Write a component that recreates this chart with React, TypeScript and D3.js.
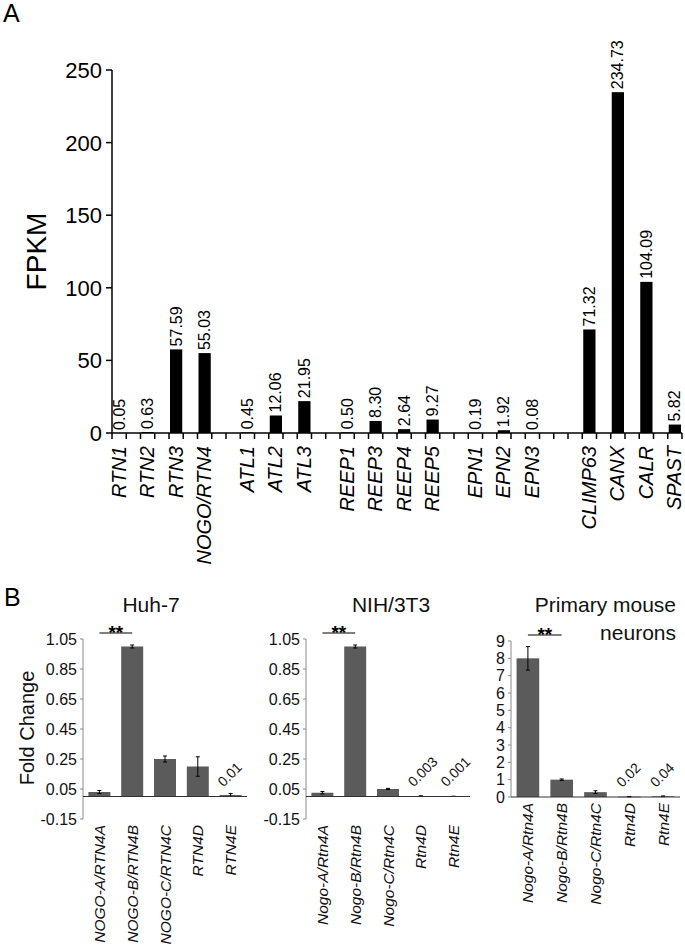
import React from "react";
import * as d3 from "d3";

// ---------- Panel A data ----------
const geneCategories = [
  "RTN1", "", "RTN2", "", "RTN3", "", "NOGO/RTN4", "", "",
  "ATL1", "", "ATL2", "", "ATL3", "", "",
  "REEP1", "", "REEP3", "", "REEP4", "", "REEP5", "", "",
  "EPN1", "", "EPN2", "", "EPN3", "", "", "",
  "CLIMP63", "", "CANX", "", "CALR", "", "SPAST",
];
const geneValues: (number | null)[] = [
  0.05, null, 0.63, null, 57.59, null, 55.03, null, null,
  0.45, null, 12.06, null, 21.95, null, null,
  0.5, null, 8.3, null, 2.64, null, 9.27, null, null,
  0.19, null, 1.92, null, 0.08, null, null, null,
  71.32, null, 234.73, null, 104.09, null, 5.82,
];
const fpkmTicks = [0, 50, 100, 150, 200, 250];

// ---------- Panel B data ----------
const huhCategories = ["NOGO-A/RTN4A", "NOGO-B/RTN4B", "NOGO-C/RTN4C", "RTN4D", "RTN4E"];
const huhValues = [0.03, 1.0, 0.25, 0.2, 0.01];
const huhErrors = [0.01, 0.01, 0.02, 0.065, 0.01];
const huhNotes = [null, null, null, null, "0.01"];

const nihCategories = ["Nogo-A/Rtn4A", "Nogo-B/Rtn4B", "Nogo-C/Rtn4C", "Rtn4D", "Rtn4E"];
const nihValues = [0.025, 1.0, 0.05, 0.003, 0.001];
const nihErrors = [0.008, 0.01, 0.004, 0.002, 0.001];
const nihNotes = [null, null, null, "0.003", "0.001"];

const neuronCategories = ["Nogo-A/Rtn4A", "Nogo-B/Rtn4B", "Nogo-C/Rtn4C", "Rtn4D", "Rtn4E"];
const neuronValues = [8.0, 1.0, 0.28, 0.02, 0.04];
const neuronErrors = [0.68, 0.04, 0.08, 0.01, 0.02];
const neuronNotes = [null, null, null, "0.02", "0.04"];

const foldTicks = [-0.15, 0.05, 0.25, 0.45, 0.65, 0.85, 1.05];
const neuronTicks = [0, 1, 2, 3, 4, 5, 6, 7, 8, 9];

const FONT = "'Liberation Sans', Arial, Helvetica, sans-serif";

type TitleLine = { text: string; x: number; y: number; anchor: "start" | "middle" | "end" };

type SmallProps = {
  categories: string[];
  values: number[];
  errors: number[];
  notes: (string | null)[];
  ticks: number[];
  decimals: number;
  x0: number;
  x1: number;
  yTop: number;
  yBottom: number;
  titleLines: TitleLine[];
};

function SmallChart(p: SmallProps) {
  const x = d3.scaleBand<string>().domain(p.categories).range([p.x0, p.x1]).padding(0);
  const ext = d3.extent(p.ticks) as [number, number];
  const y = d3.scaleLinear().domain(ext).range([p.yBottom, p.yTop]);
  const bw = x.bandwidth() * 0.67;
  const y0 = y(0);
  const axisColor = "#8a8a8a";
  const sx0 = x(p.categories[0])! + x.bandwidth() / 2;
  const sx1 = x(p.categories[1])! + x.bandwidth() / 2;
  const sigY = p.yTop - 6;
  return (
    <g>
      {p.titleLines.map((t, i) => (
        <text key={i} x={t.x} y={t.y} textAnchor={t.anchor} fontSize={21} fontFamily={FONT} fill="#111">
          {t.text}
        </text>
      ))}
      {/* y axis */}
      <line x1={p.x0} x2={p.x0} y1={y(ext[0])} y2={y(ext[1])} stroke={axisColor} strokeWidth={1} />
      {p.ticks.map((t) => (
        <g key={t}>
          <line x1={p.x0 - 3} x2={p.x0} y1={y(t)} y2={y(t)} stroke={axisColor} />
          <text x={p.x0 - 6} y={y(t)} dy="0.35em" textAnchor="end" fontSize={16} fontFamily={FONT} fill="#111">
            {p.decimals > 0 ? t.toFixed(p.decimals) : String(t)}
          </text>
        </g>
      ))}
      {/* bars */}
      {p.categories.map((c, i) => {
        const cx = x(c)! + x.bandwidth() / 2;
        const v = p.values[i];
        const e = p.errors[i];
        return (
          <g key={c}>
            <rect x={cx - bw / 2} y={y(v)} width={bw} height={Math.max(0.6, y0 - y(v))} fill="#5b5b5b" />
            <line x1={cx} x2={cx} y1={y(v + e)} y2={y(Math.max(0, v - e))} stroke="#000" strokeWidth={1} />
            <line x1={cx - 2} x2={cx + 2} y1={y(v + e)} y2={y(v + e)} stroke="#000" strokeWidth={1} />
            <line x1={cx - 2} x2={cx + 2} y1={y(Math.max(0, v - e))} y2={y(Math.max(0, v - e))} stroke="#000" strokeWidth={1} />
          </g>
        );
      })}
      {/* x axis */}
      <line x1={p.x0} x2={p.x1} y1={y0} y2={y0} stroke="#333" strokeWidth={1} />
      {/* notes */}
      {p.categories.map((c, i) => {
        const n = p.notes[i];
        if (!n) return null;
        const cx = x(c)! + x.bandwidth() / 2;
        return (
          <text key={"n" + c} transform={`translate(${cx - 7},${y0 - 9}) rotate(-45)`} fontSize={14} fontFamily={FONT} fill="#111">
            {n}
          </text>
        );
      })}
      {/* category labels */}
      {p.categories.map((c) => {
        const cx = x(c)! + x.bandwidth() / 2;
        return (
          <text key={"l" + c} transform={`translate(${cx},${p.yBottom + 6}) rotate(-90)`} textAnchor="end" dominantBaseline="central" fontSize={15.5} fontStyle="italic" fontFamily={FONT} fill="#111">
            {c}
          </text>
        );
      })}
      {/* significance */}
      <line x1={sx0} x2={sx1} y1={sigY} y2={sigY} stroke="#000" strokeWidth={1.2} />
      <text x={(sx0 + sx1) / 2} y={sigY + 6} textAnchor="middle" fontSize={19} fontWeight="bold" fontFamily={FONT} fill="#000">
        **
      </text>
    </g>
  );
}

export default function App() {
  const W = 685;
  const H = 949;
  const n = geneCategories.length;
  const xA = d3.scaleBand<number>().domain(d3.range(n)).range([112, 682]).padding(0);
  const yA = d3.scaleLinear().domain([0, 250]).range([433, 70]);
  const bwA = xA.bandwidth() * 0.86;
  const slotEdges = d3.range(n + 1).map((i) => (i < n ? xA(i)! : xA.range()[1]));

  return (
    <svg width={W} height={H} style={{ position: "absolute", left: 0, top: 0, background: "#fff" }} fontFamily={FONT}>
      <rect width={W} height={H} fill="#fff" />
      {/* Panel A */}
      <text x={3} y={22} fontSize={25} fontFamily={FONT} fill="#000">A</text>
      <text transform={`translate(36,${(yA(0) + yA(250)) / 2}) rotate(-90)`} textAnchor="middle" dominantBaseline="central" fontSize={28} fontFamily={FONT} fill="#000">
        FPKM
      </text>
      <line x1={112} x2={112} y1={yA(0)} y2={yA(250)} stroke="#000" strokeWidth={1.5} />
      {fpkmTicks.map((t) => (
        <g key={t}>
          <line x1={106} x2={112} y1={yA(t)} y2={yA(t)} stroke="#000" strokeWidth={1.5} />
          <text x={102} y={yA(t)} dy="0.36em" textAnchor="end" fontSize={22} fontFamily={FONT} fill="#000">
            {t}
          </text>
        </g>
      ))}
      {geneValues.map((v, i) => {
        if (v === null) return null;
        const cx = xA(i)! + xA.bandwidth() / 2;
        return (
          <g key={i}>
            <rect x={cx - bwA / 2} y={yA(v)} width={bwA} height={yA(0) - yA(v)} fill="#000" />
            <text transform={`translate(${cx},${yA(v) - 3}) rotate(-90)`} dominantBaseline="central" fontSize={16} fontFamily={FONT} fill="#000">
              {v.toFixed(2)}
            </text>
            <text transform={`translate(${cx - 0.5},446) rotate(-90)`} textAnchor="end" dominantBaseline="central" fontSize={20} fontStyle="italic" fontFamily={FONT} fill="#000">
              {geneCategories[i]}
            </text>
          </g>
        );
      })}
      <line x1={112} x2={682} y1={yA(0)} y2={yA(0)} stroke="#000" strokeWidth={1.5} />
      {slotEdges.map((ex, i) => (
        <line key={"t" + i} x1={ex} x2={ex} y1={yA(0)} y2={yA(0) + 6} stroke="#000" strokeWidth={1.5} />
      ))}

      {/* Panel B */}
      <text x={4} y={606} fontSize={25} fontFamily={FONT} fill="#000">B</text>
      <text transform="translate(27,728) rotate(-90)" textAnchor="middle" dominantBaseline="central" fontSize={20} fontFamily={FONT} fill="#111">
        Fold Change
      </text>
      <SmallChart
        categories={huhCategories}
        values={huhValues}
        errors={huhErrors}
        notes={huhNotes}
        ticks={foldTicks}
        decimals={2}
        x0={83}
        x1={247}
        yTop={639}
        yBottom={819}
        titleLines={[{ text: "Huh-7", x: 151, y: 612, anchor: "middle" }]}
      />
      <SmallChart
        categories={nihCategories}
        values={nihValues}
        errors={nihErrors}
        notes={nihNotes}
        ticks={foldTicks}
        decimals={2}
        x0={306}
        x1={470}
        yTop={639}
        yBottom={819}
        titleLines={[{ text: "NIH/3T3", x: 391, y: 612, anchor: "middle" }]}
      />
      <SmallChart
        categories={neuronCategories}
        values={neuronValues}
        errors={neuronErrors}
        notes={neuronNotes}
        ticks={neuronTicks}
        decimals={0}
        x0={511}
        x1={680}
        yTop={641}
        yBottom={797}
        titleLines={[
          { text: "Primary mouse", x: 676, y: 612, anchor: "end" },
          { text: "neurons", x: 676, y: 640, anchor: "end" },
        ]}
      />
    </svg>
  );
}
